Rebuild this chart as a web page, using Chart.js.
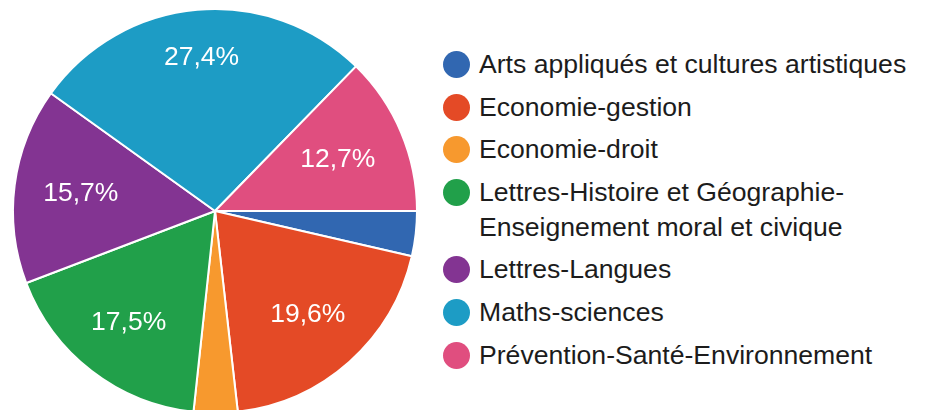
<!DOCTYPE html>
<html>
<head>
<meta charset="utf-8">
<script src="https://cdn.jsdelivr.net/npm/chart.js@4/dist/chart.umd.min.js"></script>
<style>
  html, body { margin: 0; padding: 0; background: #fff; overflow: hidden; }
  body { width: 925px; height: 410px; position: relative; font-family: "Liberation Sans", Arial, sans-serif; }
  #pieBox { position: absolute; left: 0; top: 0; width: 430px; height: 422px; }
  #legend { position: absolute; left: 443px; top: 47px; color: #1c1c1c; font-size: 26.6px; }
  .item { position: relative; padding-left: 36px; line-height: 35px; margin-bottom: 7.6px; white-space: nowrap; }
  .dot { position: absolute; left: 0; top: 4px; width: 27px; height: 27px; border-radius: 50%; }
</style>
</head>
<body>
<div id="pieBox"><canvas id="pie"></canvas></div>
<div id="legend"></div>
<script>
// categories and values (percent)
var categories = [
  'Arts appliqués et cultures artistiques',
  'Economie-gestion',
  'Economie-droit',
  ['Lettres-Histoire et Géographie-', 'Enseignement moral et civique'],
  'Lettres-Langues',
  'Maths-sciences',
  'Prévention-Santé-Environnement'
];
var shares = [3.6, 19.6, 3.5, 17.5, 15.7, 27.4, 12.7];
var colors = ['#3167b1', '#e44a26', '#f7992e', '#21a04a', '#833492', '#1d9cc5', '#e04e7f'];
// where to put the % text along the radius
var labelRadius = [0.7, 0.69, 0.7, 0.70, 0.67, 0.76, 0.66];

var pctLabels = {
  id: 'pctLabels',
  afterDatasetsDraw: function(chart) {
    var ctx = chart.ctx;
    var meta = chart.getDatasetMeta(0);
    ctx.save();
    ctx.fillStyle = '#fff';
    ctx.font = '26.5px "Liberation Sans", Arial, sans-serif';
    ctx.textAlign = 'center';
    ctx.textBaseline = 'middle';
    meta.data.forEach(function(arc, i) {
      if (shares[i] < 5) return;
      var p = arc.getProps(['x', 'y', 'startAngle', 'endAngle', 'outerRadius'], true);
      var mid = (p.startAngle + p.endAngle) / 2;
      var r = p.outerRadius * labelRadius[i];
      var txt = shares[i].toFixed(1).replace('.', ',') + '%';
      ctx.fillText(txt, p.x + Math.cos(mid) * r, p.y + Math.sin(mid) * r);
    });
    ctx.restore();
  }
};

var chart = new Chart(document.getElementById('pie').getContext('2d'), {
  type: 'pie',
  data: {
    labels: categories,
    datasets: [{
      data: shares,
      backgroundColor: colors,
      borderColor: '#fff',
      borderWidth: 2
    }]
  },
  options: {
    responsive: true,
    maintainAspectRatio: false,
    animation: false,
    rotation: 90,
    layout: { padding: { left: 12, right: 12, top: 8, bottom: 8 } },
    events: [],
    plugins: {
      legend: { display: false },
      tooltip: { enabled: false }
    }
  },
  plugins: [pctLabels]
});

// legend on the right
var leg = document.getElementById('legend');
categories.forEach(function(c, i) {
  var item = document.createElement('div');
  item.className = 'item';
  var dot = document.createElement('span');
  dot.className = 'dot';
  dot.style.background = colors[i];
  item.appendChild(dot);
  var lines = Array.isArray(c) ? c : [c];
  lines.forEach(function(l, j) {
    if (j > 0) item.appendChild(document.createElement('br'));
    item.appendChild(document.createTextNode(l));
  });
  leg.appendChild(item);
});
</script>
</body>
</html>
